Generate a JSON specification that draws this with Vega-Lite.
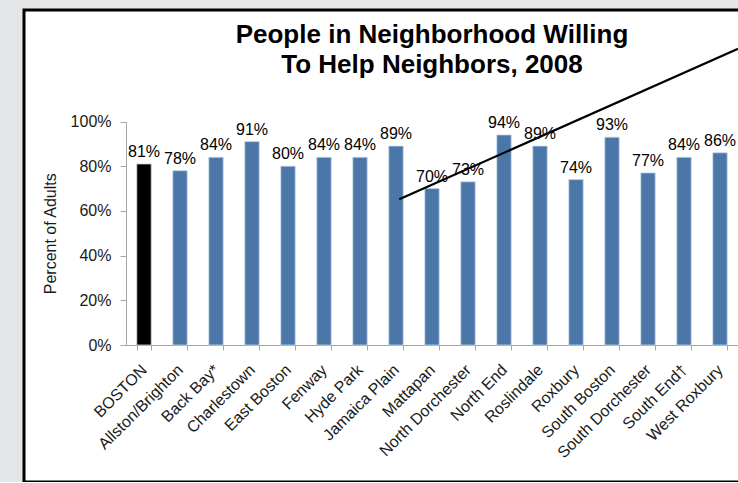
{
  "$schema": "https://vega.github.io/schema/vega-lite/v6.json",
  "width": 720,
  "height": 472,
  "autosize": {"type": "none"},
  "padding": {"left": 24, "top": 10, "right": 0, "bottom": 0},
  "background": "#e4e5e6",
  "config": {
    "view": {"fill": "white", "stroke": "black", "strokeWidth": 3},
    "font": "Liberation Sans"
  },
  "title": {
    "text": ["People in Neighborhood Willing", "To Help Neighbors, 2008"],
    "fontSize": 26,
    "fontWeight": "bold",
    "font": "Liberation Sans",
    "color": "black",
    "anchor": "middle",
    "frame": "group",
    "baseline": "alphabetic",
    "offset": -89,
    "dx": 48,
    "lineHeight": 30
  },
  "datasets": {
    "hoods": [
      {"area": "BOSTON", "share": 0.81, "kind": "City"},
      {"area": "Allston/Brighton", "share": 0.78, "kind": "Neighborhood"},
      {"area": "Back Bay*", "share": 0.84, "kind": "Neighborhood"},
      {"area": "Charlestown", "share": 0.91, "kind": "Neighborhood"},
      {"area": "East Boston", "share": 0.80, "kind": "Neighborhood"},
      {"area": "Fenway", "share": 0.84, "kind": "Neighborhood"},
      {"area": "Hyde Park", "share": 0.84, "kind": "Neighborhood"},
      {"area": "Jamaica Plain", "share": 0.89, "kind": "Neighborhood"},
      {"area": "Mattapan", "share": 0.70, "kind": "Neighborhood"},
      {"area": "North Dorchester", "share": 0.73, "kind": "Neighborhood"},
      {"area": "North End", "share": 0.94, "kind": "Neighborhood"},
      {"area": "Roslindale", "share": 0.89, "kind": "Neighborhood"},
      {"area": "Roxbury", "share": 0.74, "kind": "Neighborhood"},
      {"area": "South Boston", "share": 0.93, "kind": "Neighborhood"},
      {"area": "South Dorchester", "share": 0.77, "kind": "Neighborhood"},
      {"area": "South End†", "share": 0.84, "kind": "Neighborhood"},
      {"area": "West Roxbury", "share": 0.86, "kind": "Neighborhood"}
    ],
    "stroke": [
      {"pos": 7.59, "share": 0.652},
      {"pos": 17.0, "share": 1.325}
    ]
  },
  "layer": [
    {
      "data": {"name": "hoods"},
      "layer": [
        {
          "mark": {"type": "bar", "stroke": "#c5d5ea", "strokeWidth": 0.8},
          "encoding": {
            "x": {
              "field": "area",
              "type": "nominal",
              "sort": null,
              "scale": {"range": [102, 714], "paddingInner": 0.6, "paddingOuter": 0.3},
              "axis": {
                "title": null,
                "orient": "bottom",
                "offset": -137,
                "labelAngle": -45,
                "labelBaseline": "middle",
                "labelAlign": "right",
                "labelFontSize": 16,
                "labelColor": "#1a1a1a",
                "labelFont": "Liberation Sans",
                "domainColor": "#a6a6a6",
                "tickColor": "#a6a6a6",
                "tickSize": 5,
                "tickBand": "extent",
                "labelPadding": 17,
                "labelOverlap": false,
                "grid": false
              }
            },
            "y": {
              "field": "share",
              "type": "quantitative",
              "scale": {"domain": [0, 1], "range": [335, 111.5], "nice": false},
              "axis": {
                "title": "Percent of Adults",
                "orient": "left",
                "offset": -102,
                "values": [0, 0.2, 0.4, 0.6, 0.8, 1],
                "format": ".0%",
                "labelFontSize": 16,
                "labelColor": "#1a1a1a",
                "labelFont": "Liberation Sans",
                "domainColor": "#a6a6a6",
                "tickColor": "#a6a6a6",
                "tickSize": 6,
                "labelPadding": 9,
                "grid": false,
                "titleFontSize": 16,
                "titleFontWeight": "normal",
                "titleFont": "Liberation Sans",
                "titleColor": "#1a1a1a",
                "titleX": -76,
                "titleBaseline": "middle"
              }
            },
            "color": {
              "field": "kind",
              "type": "nominal",
              "scale": {"domain": ["City", "Neighborhood"], "range": ["#000000", "#4a76a8"]},
              "legend": null
            }
          }
        },
        {
          "mark": {"type": "text", "baseline": "alphabetic", "dy": -7, "fontSize": 16, "color": "black", "font": "Liberation Sans"},
          "encoding": {
            "x": {"field": "area", "type": "nominal", "sort": null},
            "y": {"field": "share", "type": "quantitative"},
            "text": {"field": "share", "type": "quantitative", "format": ".0%"}
          }
        }
      ]
    },
    {
      "data": {"name": "stroke"},
      "mark": {"type": "line", "color": "black", "strokeWidth": 2.2},
      "encoding": {
        "x": {"field": "pos", "type": "quantitative", "scale": {"domain": [0, 17], "range": [102, 714]}, "axis": null},
        "y": {"field": "share", "type": "quantitative"}
      }
    }
  ],
  "resolve": {"scale": {"x": "independent"}}
}
